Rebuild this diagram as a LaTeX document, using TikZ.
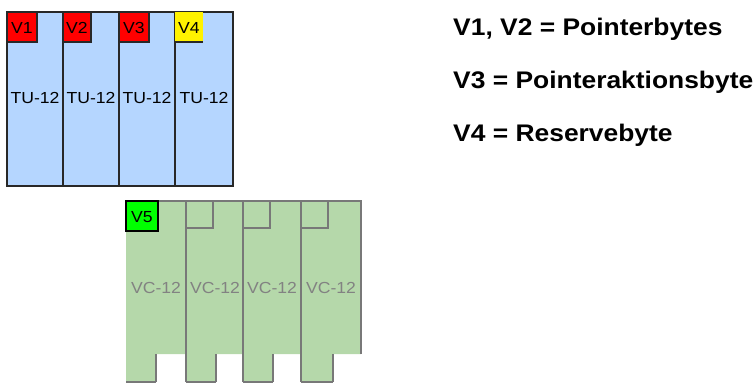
\documentclass[tikz,border=0pt]{standalone}
\usepackage{fontspec}
\setmainfont{Liberation Sans}
\definecolor{tublue}{RGB}{181,214,255}
\definecolor{vcgreen}{RGB}{181,216,170}
\definecolor{vline}{RGB}{120,120,120}
\definecolor{dline}{RGB}{40,40,40}
\definecolor{vctext}{RGB}{130,130,130}
\begin{document}
\begin{tikzpicture}[x=1pt,y=-1pt,
  boxlabel/.style={font=\fontsize{16}{16}\selectfont, xscale=1.1, inner sep=0pt},
  tulabel/.style={boxlabel, text=black},
  vclabel/.style={boxlabel, text=vctext},
  legend/.style={font=\bfseries\fontsize{24}{24}\selectfont, xscale=1.1, anchor=base west, inner sep=0pt},
  ptr/.style={draw=dline, line width=1.2pt}]
\useasboundingbox (0,0) rectangle (754,383);
% upper TU-12 block
\fill[tublue] (7,12) rectangle (233,186);
\draw[dline, line width=1.3pt] (7,12) rectangle (233,186);
\foreach \x in {63,119,175} \draw[dline, line width=1.3pt] (\x,12) -- (\x,186);
\draw[ptr, fill=red] (7,12) rectangle (37,42);
\draw[ptr, fill=red] (63,12) rectangle (91,42);
\draw[ptr, fill=red] (119,12) rectangle (149,42);
\fill[yellow] (175,12) rectangle (203,42);
\draw[ptr] (175,42) -- (203,42);
\node[tulabel] (v1) at (22,28) {V1};
\node[tulabel] (v2) at (77,28) {V2};
\node[tulabel] (v3) at (134,28) {V3};
\node[tulabel] (v4) at (189,28) {V4};
\node[tulabel] (tu1) at (35,98) {TU-12};
\node[tulabel] (tu2) at (91,98) {TU-12};
\node[tulabel] (tu3) at (147,98) {TU-12};
\node[tulabel] (tu4) at (204,98) {TU-12};
% lower VC-12 block
\fill[vcgreen] (126,201) -- (361,201) -- (361,354) -- (333,354) -- (333,382)
  -- (301,382) -- (301,354) -- (273,354) -- (273,382) -- (243,382) -- (243,354)
  -- (216,354) -- (216,382) -- (186,382) -- (186,354) -- (156,354) -- (156,382)
  -- (126,382) -- cycle;
\begin{scope}[draw=vline, line width=1.2pt]
\draw (158,201) -- (361,201) -- (361,354);
\foreach \x in {186,243,301} \draw (\x,201) -- (\x,382);
\foreach \x in {156,216,273,333} \draw (\x,354) -- (\x,382);
\draw (126,382) -- (156,382) (186,382) -- (216,382) (243,382) -- (273,382) (301,382) -- (333,382);
\draw (186,228) -- (213,228) -- (213,201);
\draw (243,228) -- (270,228) -- (270,201);
\draw (301,228) -- (328,228) -- (328,201);
\end{scope}
\draw[draw=black, line width=1.2pt, fill=green] (126,201) rectangle (158,231);
\node[tulabel] (v5) at (142,217) {V5};
\node[vclabel] (vc1) at (156,288) {VC-12};
\node[vclabel] (vc2) at (215,288) {VC-12};
\node[vclabel] (vc3) at (272,288) {VC-12};
\node[vclabel] (vc4) at (331,288) {VC-12};
% legend
\node[legend] (l1) at (453,35.5) {V1, V2 = Pointerbytes};
\node[legend] (l2) at (453,88.5) {V3 = Pointeraktionsbyte};
\node[legend] (l3) at (453,141.5) {V4 = Reservebyte};
\end{tikzpicture}
\end{document}
